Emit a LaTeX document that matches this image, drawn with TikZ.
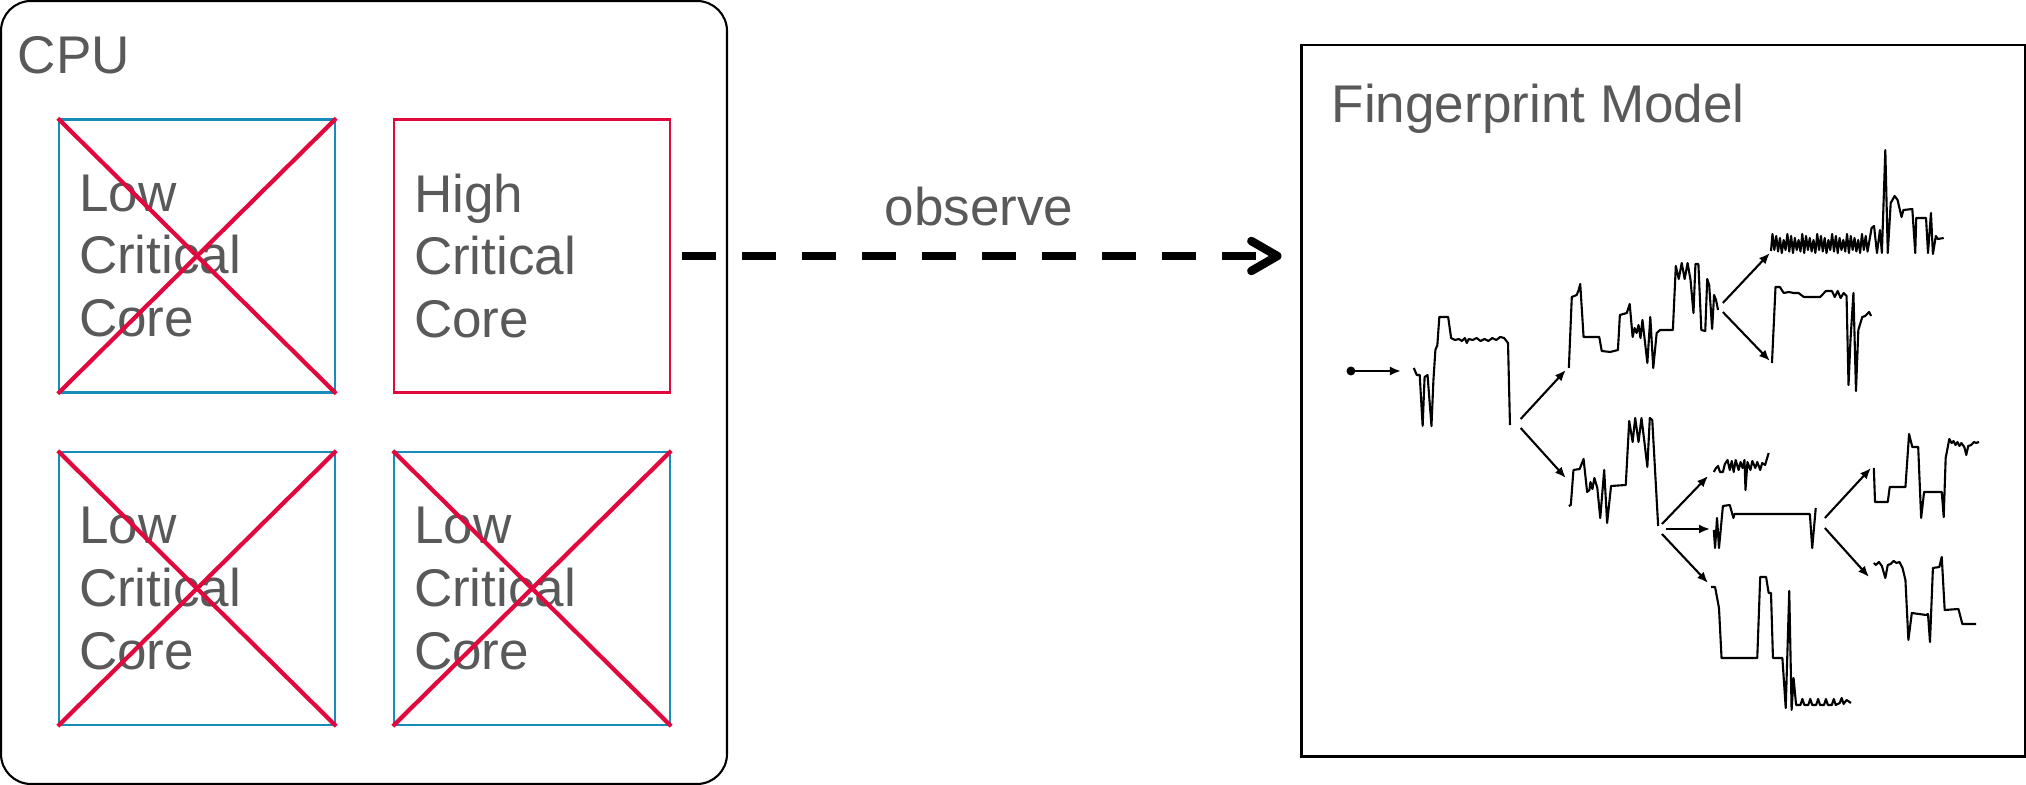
\documentclass[tikz,border=0pt]{standalone}
\usepackage{fontspec}
\setmainfont{Liberation Sans}
\usetikzlibrary{arrows.meta}
\definecolor{coreblue}{HTML}{168CB6}
\definecolor{corered}{HTML}{E2073C}
\definecolor{txtgray}{HTML}{595959}
\begin{document}
\begin{tikzpicture}[
        x=0.1mm, y=-0.1mm,
        every node/.style={text=txtgray, font=\fontsize{15.1}{17.9}\selectfont},
        core/.style={draw=#1, line width=0.7pt, minimum width=27.6mm, minimum height=27.3mm,
            text width=23.6mm, inner xsep=2mm, align=left},
        cross/.style={draw=corered, line width=1.2pt},
        obs/.style={line width=2.4pt, dash pattern=on 3.4mm off 2.6mm,
            -{Straight Barb[round, length=2.6mm, width=3mm]}},
        wave/.style={line width=0.6pt, line join=round},
        sig/.style={-{Latex[length=1.1mm, width=0.9mm]}, line width=0.6pt},
    ]
    \useasboundingbox (0,0) rectangle (2026,785);

    % cpu with its four cores
    \node[draw=black, line width=0.6pt, rounded corners=3mm, minimum width=72.6mm,
        minimum height=78.3mm] (cpu) at (364,392.5) {};
    \node[anchor=base west, inner sep=0] (cpulbl) at (17,74) {CPU};
    \node[core=coreblue] (lc1) at (197,256) {Low\\Critical\\Core};
    \node[core=corered] (hc) at (532,256) {High\\Critical\\Core};
    \node[core=coreblue] (lc2) at (197,588.5) {Low\\Critical\\Core};
    \node[core=coreblue] (lc3) at (532,588.5) {Low\\Critical\\Core};
    \foreach \c in {lc1,lc2,lc3}
        \draw[cross] (\c.north west) -- (\c.south east) (\c.north east) -- (\c.south west);

    % model box
    \node[draw=black, line width=0.85pt, minimum width=72.4mm, minimum height=71.2mm] (fp) at (1663,401) {};
    \node[anchor=base west, inner sep=0] (fplbl) at (1331,123) {Fingerprint Model};

    \draw[obs, shorten <=1.1mm, shorten >=1.8mm] (hc.east) -- (hc.east -| fp.west)
        node[pos=0.49, above=2.6mm, inner sep=0] (obslbl) {observe};

    % traces, squeezed a little towards the box edge
    \begin{scope}[shift={(24.3,0)}, xscale=0.9813]
    \draw[wave] plot coordinates {(1416,368) (1419,375) (1422,375) (1425,426) (1427,377) (1430,375)
        (1434,426) (1436,380) (1438,350) (1440,345) (1442,317) (1451,317) (1454,338) (1458,340)
        (1462,339) (1465,341) (1468,338) (1470,343) (1472,339) (1476,340) (1480,338) (1484,341)
        (1488,339) (1492,341) (1496,338) (1500,340) (1504,337) (1508,338) (1512,343) (1514,425)};
    \draw[wave] plot coordinates {(1574,368) (1577,297) (1582,295) (1584,290) (1585.6,284) (1589,337)
        (1605,337) (1607.5,351) (1616,352) (1624,350) (1626,315) (1633,313) (1636,304) (1639,337)
        (1641,328) (1643,333) (1645,325) (1647,338) (1649,320) (1654,363) (1657,317) (1660,368)
        (1663.5,333) (1667,330) (1680,330) (1683,266) (1686,279) (1689,263) (1692,279) (1695,263)
        (1698,280) (1701,313) (1703,264) (1706,264) (1709,330) (1713,331) (1715,279) (1717,285)
        (1720,329) (1722,295) (1724,300) (1726,310)};
    \draw[wave] (1780,251) \foreach \i in {0,...,25} {-- ({1781.5+3.8*\i},{234+2*mod(\i,4)})
        -- ({1783.4+3.8*\i},{250+mod(\i,3)*1.5})} -- (1882.5,228) -- (1885,226) -- (1888,253)
        -- (1891,230) -- (1893,253) -- (1896.5,150) -- (1899,253) -- (1902,203) -- (1906,196)
        -- (1909,200) -- (1913,217) -- (1915,210) -- (1924,209) -- (1927,253) -- (1928,218)
        -- (1938,218) -- (1940,253) -- (1943,213) -- (1945,254) -- (1948,236) -- (1950,239) -- (1956,238);
    \draw[wave] plot coordinates {(1781,363) (1784.6,287) (1789,287) (1793,293) (1798,292) (1803,293)
        (1808,293) (1813.5,297) (1820,297) (1830,297) (1836,291) (1842,291) (1845,297) (1848,291)
        (1851,298) (1854,293) (1857,296) (1859,385) (1861,340) (1864,293) (1866.6,391) (1869,330)
        (1873,317) (1876,316) (1880,312) (1882,316)};
    \draw[wave] plot coordinates {(1574,506) (1576,505) (1578.7,470) (1585,469) (1589,459) (1592.6,492)
        (1595,490) (1596,482) (1598,489) (1600,478) (1603,488) (1606,518) (1610,470) (1613,523)
        (1617,486) (1632,485) (1635.5,421) (1639,442) (1641.6,418) (1645,442) (1648,418) (1651,442)
        (1654,467) (1656.5,418) (1659,420) (1665,526)};
    \draw[wave] plot coordinates {(1721.7,472) (1724,468) (1726,466) (1728,472) (1731,472) (1733,464)
        (1735.7,460) (1738,470) (1740,461) (1742,472) (1744,460) (1747,470) (1749,462) (1751,468)
        (1753,460) (1754,490) (1756,462) (1759,470) (1761,461) (1764,468) (1766,462) (1769,470)
        (1771,463) (1774,465) (1777.6,453)};
    \draw[wave] plot coordinates {(1721.7,530) (1723,548) (1725,518) (1727,548) (1731,506) (1738,505)
        (1741.7,518) (1742.7,514) (1819.6,514) (1822,548) (1825.6,508)};
    \draw[wave] plot coordinates {(1719,587) (1723,587) (1727,608) (1729.6,658) (1766,658) (1769,577)
        (1775,577) (1777.6,593) (1780,593) (1782,658) (1791.6,658) (1795,708) (1798.6,591) (1801,710)
        (1803,678) (1805.6,705) (1810,705) (1812,699) (1814,705) (1818,705) (1820,699) (1822,705)
        (1826,705) (1828,699) (1830,705) (1834,705) (1836,699) (1838,705) (1842,705) (1844,699)
        (1846,705) (1850,703) (1852,698) (1854,704) (1857,700) (1861.5,703)};
    \draw[wave] plot coordinates {(1884.8,468) (1886,502) (1899,502) (1901,487) (1917,487) (1920.7,434)
        (1924,447) (1930,447) (1933,518) (1936,492) (1950,492) (1954,492) (1956,517) (1958,458)
        (1961.7,439) (1964,443) (1966,441) (1968,445) (1970,442) (1972,446) (1974,443) (1977,447)
        (1979,455) (1981,446) (1984,445) (1987,442) (1989,443) (1992,442)};
    \draw[wave] plot coordinates {(1884.8,563) (1887,565) (1890,562) (1893,566) (1896.5,578) (1899,565)
        (1902,564) (1905,561) (1908,563) (1911,562) (1914,568) (1917,580) (1920,640) (1923.5,613)
        (1938,615) (1940,614) (1942,642) (1945,568) (1951.5,567) (1954,557) (1957,610) (1971,609)
        (1975,624) (1989,624)};

    % arrows between traces
    \path (1352,371) coordinate (s0)   (1403,371) coordinate (t1i)
          (1525,419) coordinate (t1u)  (1525,428) coordinate (t1d)
          (1571,370) coordinate (t2i)  (1571,478) coordinate (t5i)
          (1731,303) coordinate (t2u)  (1731,312) coordinate (t2d)
          (1779,253) coordinate (t3i)  (1779,361) coordinate (t4i)
          (1669,524) coordinate (t5u)  (1673,529) coordinate (t5m)  (1669,534) coordinate (t5d)
          (1716,476) coordinate (t6i)  (1718,529) coordinate (t7i)  (1716,583) coordinate (t8i)
          (1835,518) coordinate (t7u)  (1835,528) coordinate (t7d)
          (1882,468) coordinate (t9i)  (1880,577) coordinate (t10i);
    \fill (s0) circle[radius=0.45mm];
    \foreach \a/\b in {s0/t1i, t1u/t2i, t1d/t5i, t2u/t3i, t2d/t4i, t5u/t6i, t5m/t7i, t5d/t8i, t7u/t9i, t7d/t10i}
        \draw[sig] (\a) -- (\b);
    \end{scope}
\end{tikzpicture}
\end{document}
